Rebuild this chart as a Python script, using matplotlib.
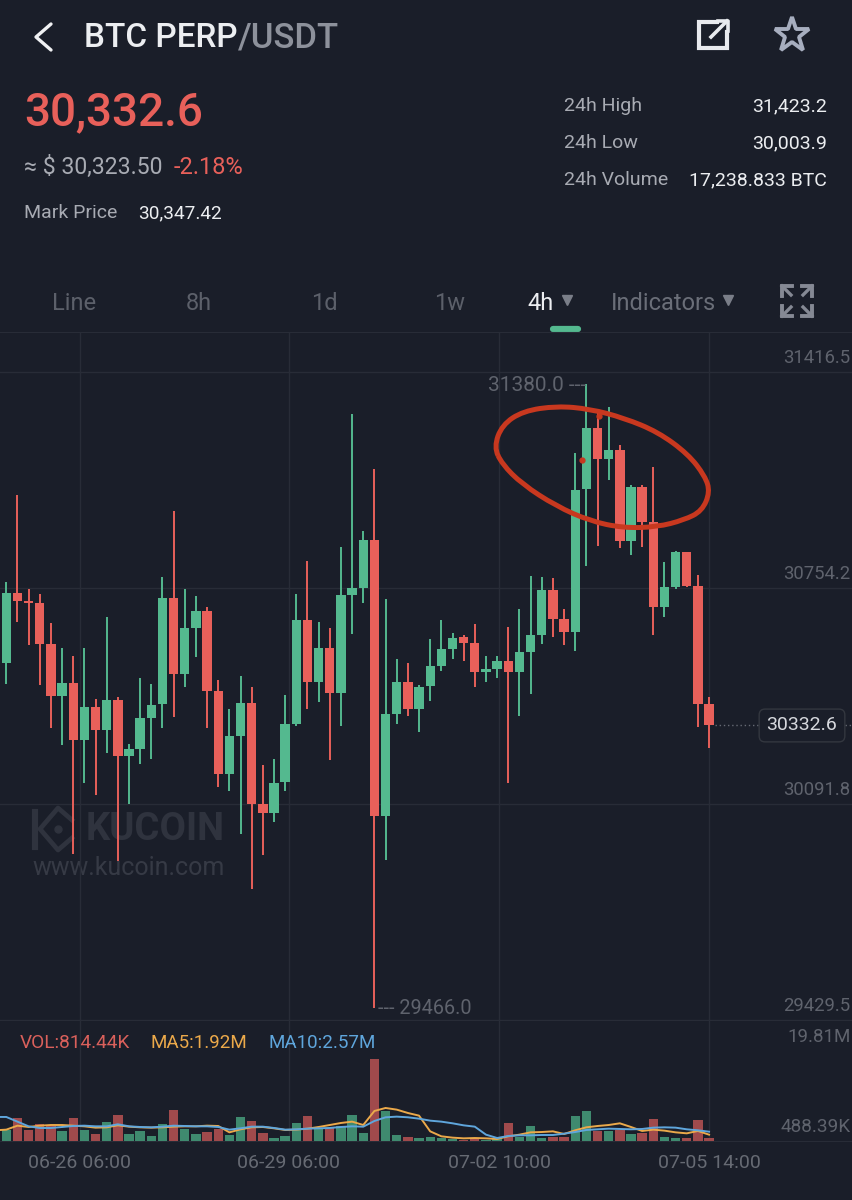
import numpy as np
import matplotlib
matplotlib.use('Agg')
import matplotlib.pyplot as plt
from matplotlib.path import Path
from matplotlib.patches import PathPatch

plt.rcParams['font.family'] = ['Roboto', 'DejaVu Sans']

BG = '#1a1e29'
RED = '#e8605a'
GREEN = '#54b98f'
RED_VOL = '#a04a4c'
GREEN_VOL = '#3f8a6f'
GRID = '#282c37'
AXIS_TXT = '#5f636d'

# 4h candles
opens = [30525, 30740, 30713, 30707, 30582, 30424, 30463, 30287, 30390, 30319, 30411, 30239, 30261, 30356, 30397, 30724,
         30490, 30632, 30685, 30439, 30183, 30301, 30401, 30091, 30064, 30158, 30336, 30657, 30465, 30571, 30432, 30732,
         30755, 30900, 30056, 30367, 30466, 30382, 30453, 30515, 30567, 30603, 30586, 30497, 30507, 30529, 30497, 30559,
         30610, 30748, 30658, 30619, 31057, 31246, 31149, 31176, 30897, 31065, 30957, 30697, 30758, 30866, 30761, 30397]
highs = [30773, 31039, 30752, 30736, 30648, 30569, 30546, 30570, 30415, 30664, 30419, 30277, 30479, 30460, 30787, 30991,
         30750, 30730, 30697, 30472, 30382, 30485, 30450, 30210, 30231, 30426, 30735, 30836, 30649, 30631, 30880, 31288,
         30930, 31119, 30720, 30537, 30525, 30457, 30597, 30655, 30617, 30610, 30644, 30546, 30546, 30634, 30689, 30790,
         30788, 30786, 30689, 31167, 31380, 31290, 31310, 31193, 31071, 31071, 31124, 30834, 30867, 30866, 30793, 30421]
lows = [30460, 30650, 30578, 30456, 30324, 30272, 29938, 30157, 30120, 30249, 29918, 30092, 30215, 30230, 30324, 30359,
        30450, 30542, 30325, 30143, 30133, 30000, 29832, 29935, 30037, 30132, 30332, 30382, 30405, 30227, 30332, 30614,
        30709, 29466, 29920, 30337, 30363, 30314, 30409, 30499, 30536, 30530, 30452, 30466, 30478, 30157, 30361, 30428,
        30583, 30603, 30579, 30562, 30822, 30883, 31085, 30876, 30855, 30881, 30610, 30664, 30750, 30757, 30329, 30263]
closes = [30740, 30715, 30707, 30583, 30424, 30462, 30287, 30390, 30318, 30411, 30239, 30260, 30356, 30395, 30724, 30490,
          30632, 30684, 30439, 30183, 30301, 30401, 30091, 30064, 30157, 30336, 30657, 30465, 30571, 30432, 30732, 30755,
          30900, 30056, 30367, 30466, 30382, 30452, 30515, 30567, 30601, 30586, 30497, 30507, 30529, 30497, 30558, 30610,
          30748, 30659, 30620, 31055, 31246, 31149, 31176, 30897, 31065, 30957, 30697, 30758, 30866, 30759, 30398, 30332.6]

volumes = [2.74, 5.64, 2.74, 4.11, 3.54, 2.42, 5.55, 2.74, 1.61, 4.59, 6.36, 1.77, 2.42, 1.29, 4.03, 7.49,
           2.90, 1.77, 2.09, 2.90, 1.37, 5.80, 4.83, 1.85, 0.72, 1.29, 4.27, 6.04, 2.90, 3.14, 3.70, 6.28,
           2.01, 19.81, 7.16, 1.53, 1.05, 0.64, 0.97, 0.64, 0.48, 0.32, 0.40, 0.24, 0.40, 4.35, 0.97, 3.62,
           0.64, 0.97, 0.97, 6.12, 7.25, 2.42, 2.50, 2.66, 1.69, 1.85, 5.23, 0.89, 0.64, 0.64, 4.99, 0.81]
# MA lines start one candle before the left edge
ma5 = [2.58, 2.74, 3.70, 3.38, 3.70, 3.86, 3.86, 3.70, 3.54, 3.22, 3.30, 3.78, 3.46, 3.30, 3.22, 3.30, 3.46,
       3.54, 3.54, 3.70, 3.62, 2.09, 2.82, 3.30, 3.38, 3.06, 2.66, 2.74, 2.98, 3.38, 3.86, 4.35, 4.67,
       3.86, 7.25, 7.97, 7.57, 6.76, 6.12, 2.33, 1.13, 0.81, 0.64, 0.72, 0.64, 0.48, 1.13, 1.53, 2.09,
       2.17, 2.33, 1.69, 2.58, 3.30, 3.62, 3.86, 4.27, 3.38, 2.42, 2.74, 2.50, 2.09, 1.85, 2.42, 1.53]
ma10 = [5.80, 5.80, 4.67, 3.54, 3.14, 3.14, 3.38, 3.62, 3.70, 3.54, 3.54, 4.03, 3.54, 3.38, 3.30, 3.46, 3.70,
        3.62, 3.54, 3.54, 3.38, 2.74, 3.06, 3.46, 3.46, 3.14, 2.74, 2.82, 2.98, 3.06, 3.14, 3.38, 3.54,
        3.46, 4.83, 5.72, 5.88, 5.72, 5.39, 4.91, 4.67, 4.27, 3.78, 3.46, 1.53, 0.72, 1.21, 1.37, 1.37,
        1.45, 1.45, 1.77, 2.17, 2.66, 2.82, 2.98, 2.90, 2.82, 2.90, 3.22, 3.30, 3.22, 2.82, 2.58, 2.25]

price_ticks = [31416.5, 30754.2, 30091.8, 29429.5]
price_labels = ['31416.5', '30754.2', '30091.8', '29429.5']
time_ticks = [6.6, 25.34, 44.17, 63]
time_labels = ['06-26 06:00', '06-29 06:00', '07-02 10:00', '07-05 14:00']
last_price = 30332.6

W, H = 852, 1200
fig = plt.figure(figsize=(W / 100, H / 100), dpi=100, facecolor=BG)
pt = 0.72  # one pixel in points


def box(left, top, right, bottom):
    return [left / W, 1 - bottom / H, (right - left) / W, (bottom - top) / H]


# background layer: app header and watermark, in pixels
ui = fig.add_axes([0, 0, 1, 1], zorder=-1)
ui.set_xlim(0, W)
ui.set_ylim(H, 0)
ui.axis('off')

ui.plot([51, 36, 51], [24, 37, 50], color='#f0f1f3', lw=2.4, solid_capstyle='round')
ui.text(84, 38, 'BTC PERP', color='#eceef1', fontsize=24, fontweight=500, va='center')
ui.text(238, 38, '/USDT', color='#8d919b', fontsize=25, fontweight=500, va='center')

ui.plot([717, 699, 699, 727, 727], [22, 22, 48, 48, 32], color='#e8eaee', lw=3, solid_joinstyle='miter')
ui.plot([711, 727], [37, 21], color='#e8eaee', lw=2.6)
ui.plot([718, 728, 728], [21, 21, 31], color='#e8eaee', lw=2.6)
ui.plot([792], [35], marker='*', ms=26, mfc='none', mec='#a7aebf', mew=2.8)

ui.text(24, 112, '30,332.6', color=RED, fontsize=33, fontweight=500, va='center')
ui.text(24, 167, '≈ $ 30,323.50', color='#a8abb3', fontsize=16.6, va='center')
ui.text(174, 167, '-2.18%', color=RED, fontsize=17, va='center')
ui.text(24, 213, 'Mark Price', color='#a8abb3', fontsize=14, va='center')
ui.text(138, 213, '30,347.42', color='#eceef1', fontsize=13.7, va='center')

stat_names = ['24h High', '24h Low', '24h Volume']
stat_values = ['31,423.2', '30,003.9', '17,238.833 BTC']
for name, value, yy in zip(stat_names, stat_values, [106, 143, 180]):
    ui.text(564, yy, name, color='#a8abb3', fontsize=14, va='center')
    ui.text(827, yy, value, color='#eceef1', fontsize=14, va='center', ha='right')

tab_names = ['Line', '8h', '1d', '1w']
for name, xx in zip(tab_names, [74, 199, 324, 450]):
    ui.text(xx, 303, name, color='#5c606a', fontsize=17, va='center', ha='center')
ui.text(541, 303, '4h', color='#eceef1', fontsize=17, va='center', ha='center')
ui.text(611, 303, 'Indicators', color='#6a6e78', fontsize=17, va='center')
ui.plot([567, 728], [300, 300], ls='none', marker='v', ms=6.5, color='#7a7e88')
ui.plot([553, 578], [329, 329], color=GREEN, lw=4.5, solid_capstyle='round')

# expand icon, one corner at a time
for cx, cy, sx, sy in [(782, 286, 1, 1), (812, 286, -1, 1), (782, 316, 1, -1), (812, 316, -1, -1)]:
    ui.plot([cx, cx, cx + sx * 10], [cy + sy * 10, cy, cy], color='#858994', lw=2.8, solid_joinstyle='miter')
    ui.plot([cx, cx + sx * 9], [cy, cy + sy * 9], color='#858994', lw=2.4)

# watermark sits under the candles
ui.plot([72, 58, 40, 58, 72], [820, 808, 829, 850, 838], color='#2f333e', lw=3.4)
ui.plot([35, 35], [812, 847], color='#2f333e', lw=4.4)
ui.plot([58], [829], marker='o', ms=5, color='#2f333e')
ui.text(86, 829, 'KUCOIN', color='#2f333e', fontsize=27.5, fontweight='bold', va='center')
ui.text(32, 868, 'www.kucoin.com', color='#363a45', fontsize=18, va='center')

# price chart
ax = fig.add_axes(box(0, 332, W, 1020), zorder=1)
ax.patch.set_visible(False)
px_per_idx = 11.155
x_left = -6.3 / px_per_idx
x_right = (W - 6.3) / px_per_idx
ax.set_xlim(x_left, x_right)
ax.set_ylim(29429.5, 31416.5 + 40 * 3.0664)

idx = np.arange(len(opens))
opens_a = np.array(opens)
closes_a = np.array(closes)
colors = [GREEN if c > o else RED for o, c in zip(opens, closes)]
ax.vlines(idx, lows, highs, colors=colors, lw=1.4, zorder=3)
ax.bar(idx, np.abs(closes_a - opens_a), bottom=np.minimum(opens_a, closes_a), width=0.84, color=colors, zorder=4)

ax.set_yticks(price_ticks)
ax.set_xticks(time_ticks)
ax.tick_params(length=0, labelleft=False, labelbottom=False)
ax.grid(True, color=GRID, lw=1)
ax.set_axisbelow(True)
for side in ['left', 'right']:
    ax.spines[side].set_visible(False)
ax.spines['top'].set_color(GRID)
ax.spines['bottom'].set_color(GRID)

for p, label in zip(price_ticks, price_labels):
    ax.annotate(label, (1, p), xycoords=('axes fraction', 'data'), xytext=(-1.5 * pt, 14 * pt), ha='right',
                textcoords='offset points', color=AXIS_TXT, fontsize=13.3, va='center', annotation_clip=False)

ax.annotate('--- 29466.0', (33, 29466), xytext=(4 * pt, 0), textcoords='offset points',
            color=AXIS_TXT, fontsize=14.3, va='center')
ax.annotate('31380.0 ---', (52, 31380), xytext=(0, -1.5 * pt), textcoords='offset points',
            color=AXIS_TXT, fontsize=15, va='center', ha='right')

ax.plot([63.55, 67.6], [last_price, last_price], color='#666a74', lw=1, ls=(0, (1, 2)), zorder=2)
ax.plot([75.2, x_right], [last_price, last_price], color='#666a74', lw=1, ls=(0, (1, 2)), zorder=2)
ax.annotate(f'{last_price}', (1, last_price), xycoords=('axes fraction', 'data'), xytext=(-50 * pt, 0),
            textcoords='offset points', color='#d6d8dd', fontsize=14, va='center', ha='center',
            annotation_clip=False,
            bbox=dict(boxstyle='round,pad=0.38,rounding_size=0.3', fc=BG, ec='#33373f', lw=1), zorder=6)

# volume pane
vol = fig.add_axes(box(0, 1020, W, 1141), zorder=1)
vol.patch.set_visible(False)
vol.set_xlim(x_left, x_right)
vol.set_ylim(0, 29.2)
vol_colors = [GREEN_VOL if c == GREEN else RED_VOL for c in colors]
vol.bar(idx, volumes, width=0.84, color=vol_colors, zorder=3)
ma_x = np.arange(-1, len(opens))
vol.plot(ma_x, ma5, color='#eba94a', lw=1.4, zorder=4)
vol.plot(ma_x, ma10, color='#5fa6dc', lw=1.4, zorder=5)
vol.set_xticks(time_ticks)
vol.set_xticklabels(time_labels, color='#666a73', fontsize=14)
vol.set_yticks([])
vol.tick_params(axis='x', length=0, pad=9)
vol.grid(True, axis='x', color=GRID, lw=1)
vol.set_axisbelow(True)
for side in ['left', 'right', 'top']:
    vol.spines[side].set_visible(False)
vol.spines['bottom'].set_color(GRID)

vol.text(20, 1043, 'VOL:814.44K', color='#d9605b', fontsize=13.8, va='center', transform=ui.transData)
vol.text(151, 1043, 'MA5:1.92M', color='#eba94a', fontsize=13.5, va='center', transform=ui.transData)
vol.text(268, 1043, 'MA10:2.57M', color='#5fa6dc', fontsize=13.5, va='center', transform=ui.transData)
vol.text(851, 1037, '19.81M', color=AXIS_TXT, fontsize=13.5, va='center', ha='right', transform=ui.transData)
vol.text(851, 1127, '488.39K', color=AXIS_TXT, fontsize=13.7, va='center', ha='right', transform=ui.transData)

# red hand drawn loop on top of everything
top = fig.add_axes([0, 0, 1, 1], zorder=3)
top.set_xlim(0, W)
top.set_ylim(H, 0)
top.axis('off')
loop = np.array([(494, 447), (502, 425), (523, 411), (557, 406), (590, 409), (624, 418), (658, 432), (688, 454),
                 (705, 476), (710, 492), (702, 511), (684, 520), (657, 527), (623, 528), (590, 521), (556, 506),
                 (522, 484), (502, 464)], dtype=float)
mids = (loop + np.roll(loop, -1, axis=0)) / 2
verts = [mids[-1]]
codes = [Path.MOVETO]
for p, m in zip(loop, mids):
    verts += [p, m]
    codes += [Path.CURVE3, Path.CURVE3]
top.add_patch(PathPatch(Path(verts, codes), fill=False, ec='#c8381f', lw=3.6))
top.plot([582, 599], [460, 416], ls='none', marker='o', ms=3.5, color='#c8381f')

fig.savefig('out.png', dpi=100, facecolor=BG)
